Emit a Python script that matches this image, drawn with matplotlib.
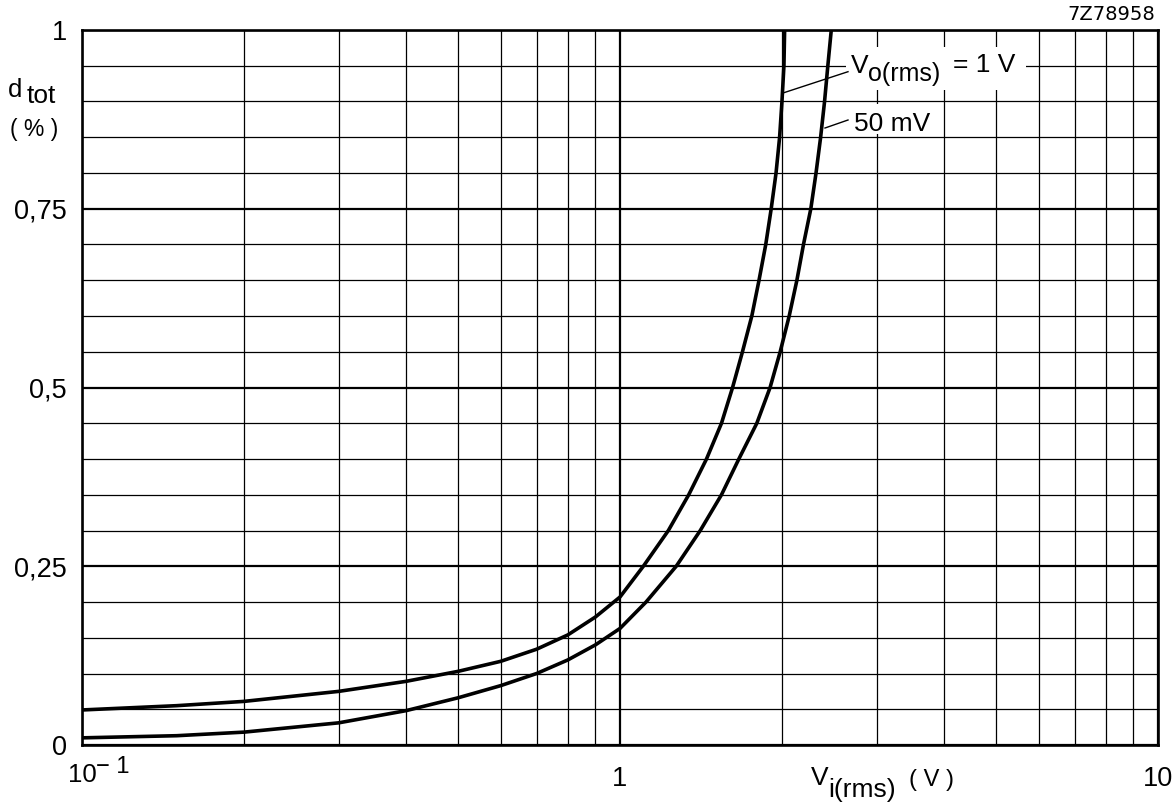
import numpy as np
import matplotlib.pyplot as plt
from matplotlib.ticker import FixedLocator, NullFormatter
from matplotlib.patches import Rectangle

plt.rcParams['font.family'] = ['Liberation Sans', 'DejaVu Sans']

vi_1v = [0.1, 0.15, 0.2, 0.3, 0.4, 0.5, 0.6, 0.7, 0.8, 0.9, 1.0, 1.105, 1.23,
         1.342, 1.448, 1.544, 1.619, 1.689, 1.758, 1.813, 1.866, 1.91, 1.95,
         1.98, 2.0, 2.017, 2.023]
d_1v = [0.049, 0.055, 0.061, 0.075, 0.089, 0.103, 0.117, 0.134, 0.154, 0.179,
        0.207, 0.25, 0.30, 0.35, 0.40, 0.45, 0.50, 0.55, 0.60, 0.65, 0.70,
        0.75, 0.80, 0.85, 0.90, 0.95, 1.0]

vi_50mv = [0.1, 0.15, 0.2, 0.3, 0.4, 0.5, 0.6, 0.7, 0.8, 0.9, 1.0, 1.118,
           1.272, 1.41, 1.544, 1.663, 1.796, 1.901, 1.985, 2.063, 2.132,
           2.193, 2.263, 2.314, 2.36, 2.40, 2.434, 2.47]
d_50mv = [0.010, 0.013, 0.018, 0.031, 0.048, 0.066, 0.083, 0.100, 0.119,
          0.140, 0.163, 0.20, 0.25, 0.30, 0.35, 0.40, 0.45, 0.50, 0.55, 0.60,
          0.65, 0.70, 0.75, 0.80, 0.85, 0.90, 0.95, 1.0]

yticks = [0, 0.25, 0.5, 0.75, 1]
ytick_labels = ['0', '0,25', '0,5', '0,75', '1']
xticks = [0.1, 1, 10]
xtick_labels = ['', '1', '10']

W, H = 1175, 807
fig = plt.figure(figsize=(W / 100, H / 100), dpi=100)
L, R, T, B = 82, 1158, 30, 745
ax = fig.add_axes([L / W, (H - B) / H, (R - L) / W, (B - T) / H])

def fx(px):  # pixel -> axes-Anteil
    return (px - L) / (R - L)

def fy(py):
    return (B - py) / (B - T)

ax.set_xscale('log')
ax.set_xlim(0.1, 10)
ax.set_ylim(0, 1)

ax.xaxis.set_major_locator(FixedLocator(xticks))
ax.xaxis.set_minor_locator(FixedLocator([m * 10.0 ** e for e in (-1, 0) for m in range(2, 10)]))
ax.xaxis.set_minor_formatter(NullFormatter())
ax.set_xticklabels(xtick_labels)
ax.yaxis.set_major_locator(FixedLocator(yticks))
ax.yaxis.set_minor_locator(FixedLocator(np.arange(0.05, 1.0, 0.05)))
ax.set_yticklabels(ytick_labels)

ax.grid(which='major', color='k', lw=1.6)
ax.grid(which='minor', color='k', lw=0.9)
ax.tick_params(which='both', length=0)
ax.tick_params(axis='y', pad=11, labelsize=19.5)
ax.tick_params(axis='x', pad=15, labelsize=19.5)
for s in ax.spines.values():
    s.set_linewidth(1.9)

ax.plot(vi_1v, d_1v, color='k', lw=2.6, solid_capstyle='butt')
ax.plot(vi_50mv, d_50mv, color='k', lw=2.6, solid_capstyle='butt')

# weisse Flaechen hinter den Beschriftungen
ax.add_patch(Rectangle((fx(846), fy(90)), fx(1026) - fx(846), fy(47) - fy(90),
                       transform=ax.transAxes, fc='white', ec='none', zorder=3))
ax.add_patch(Rectangle((fx(850), fy(134)), fx(938) - fx(850), fy(104) - fy(134),
                       transform=ax.transAxes, fc='white', ec='none', zorder=3))

# Hinweislinien
ax.plot([fx(783), fx(848)], [fy(93), fy(71.7)], transform=ax.transAxes,
        color='k', lw=1.0, zorder=4)
ax.plot([fx(825), fx(848)], [fy(128), fy(120)], transform=ax.transAxes,
        color='k', lw=1.0, zorder=4)

kw = dict(transform=ax.transAxes, va='baseline', ha='left', zorder=5)
ax.text(fx(851), fy(73), 'V', fontsize=19, **kw)
ax.text(fx(868), fy(81), 'o(rms)', fontsize=18, **kw)
ax.text(fx(953), fy(72), '= 1 V', fontsize=19, **kw)
ax.text(fx(854), fy(131), '50 mV', fontsize=19, **kw)

# Achsenbeschriftungen
fig.text(8 / W, 1 - 97 / H, 'd', fontsize=18.5, va='baseline')
fig.text(27 / W, 1 - 103 / H, 'tot', fontsize=19, va='baseline')
fig.text(34 / W, 1 - 136 / H, '( % )', fontsize=16.5, va='baseline', ha='center')

fig.text(811 / W, 1 - 785 / H, 'V', fontsize=19, va='baseline')
fig.text(828 / W, 1 - 797 / H, 'i(rms)', fontsize=19, va='baseline')
fig.text(909 / W, 1 - 786 / H, '( V )', fontsize=17, va='baseline')

fig.text(68 / W, 1 - 782 / H, '10', fontsize=18.5, va='baseline')
fig.text(96 / W, 1 - 773 / H, '\u2212 1', fontsize=17, va='baseline')

fig.text(1155 / W, 1 - 20 / H, '7Z78958', fontsize=14, va='baseline',
         ha='right', family='DejaVu Sans')

fig.savefig('out.png', dpi=100)
